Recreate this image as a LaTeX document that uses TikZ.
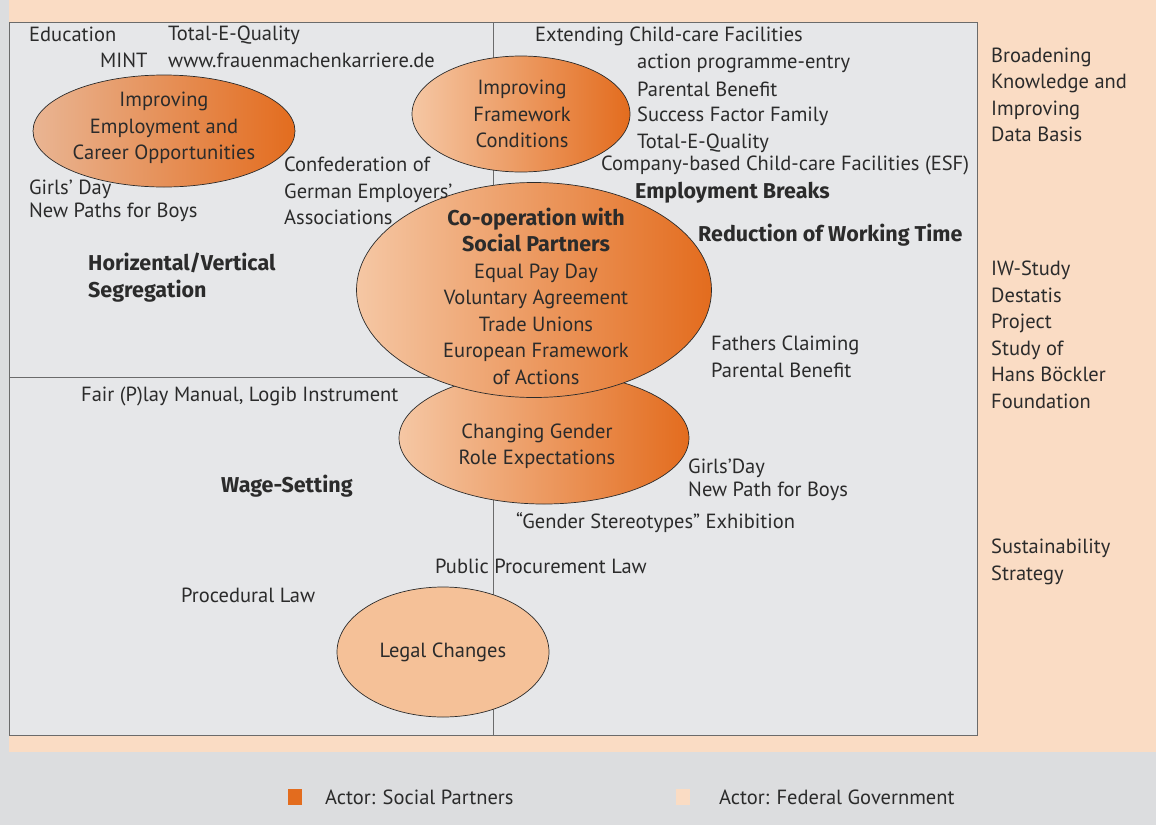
\documentclass[tikz,border=0pt]{standalone}
\usepackage{fontspec}
\setmainfont{PT Sans}
\newfontfamily\headfont{Fira Sans}
\usetikzlibrary{shapes.geometric}

\definecolor{peach}{HTML}{FADCC4}
\definecolor{panel}{HTML}{E6E7E9}
\definecolor{stripgray}{HTML}{DCDDDF}
\definecolor{actororange}{HTML}{E36C1E}
\definecolor{lightorange}{HTML}{F5C7A4}
\definecolor{tanorange}{HTML}{E9B593}
\definecolor{legalfill}{HTML}{F5C198}
\definecolor{ink}{HTML}{2B2B2B}

\newcommand{\headtxt}[1]{{\headfont\fontsize{21.5}{26.5}\selectfont\bfseries #1}}

\begin{document}
\begin{tikzpicture}[
    x=1pt, y=-1pt,
    txt/.style={anchor=west, inner sep=0pt, text=ink, align=left,
        font=\fontsize{20.5}{26.5}\selectfont},
    tight/.style={txt, font=\fontsize{20.5}{23}\selectfont},
    boldtxt/.style={txt, font=\headfont\fontsize{21.5}{27}\selectfont\bfseries},
    blobtxt/.style={inner sep=0pt, text=ink, align=center,
        font=\fontsize{20.5}{26.5}\selectfont},
    blob/.style={ellipse, draw=ink, line width=0.7pt, inner sep=0pt,
        left color=lightorange, right color=actororange},
    rule/.style={draw=ink!70, line width=1pt}
]
\useasboundingbox (0,0) rectangle (1156,825);

% background and panel
\fill[stripgray] (0,0) rectangle (1156,825);
\fill[peach] (9,0) rectangle (1156,752);
\draw[rule, fill=panel] (9,22) rectangle (977,735);
\draw[draw=ink!70, line width=0.6pt] (493,22) -- (493,735);
\draw[draw=ink!70, line width=0.6pt] (9,377) -- (493,377);

% fields of action
\node[blob, left color=tanorange, minimum width=262pt, minimum height=112pt] (career) at (164,131) {};
\node[blobtxt] (careertxt) at (164,128) {Improving\\Employment and\\Career Opportunities};

\node[blob, minimum width=218pt, minimum height=116pt] (frame) at (521,114) {};
\node[blobtxt] (frametxt) at (522,114) {Improving\\Framework\\Conditions};

\node[blob, minimum width=290pt, minimum height=132pt] (gender) at (544,438) {};
\node[blobtxt] (gendertxt) at (537,446) {Changing Gender\\Role Expectations};

\node[blob, minimum width=355pt, minimum height=215pt] (partners) at (534,290) {};
\node[blobtxt] (partnerstxt) at (536,296) {\headtxt{Co-operation with}\\\headtxt{Social Partners}\\Equal Pay Day\\Voluntary Agreement\\Trade Unions\\European Framework\\of Actions};

\node[ellipse, draw=ink, line width=0.7pt, fill=legalfill,
    minimum width=212pt, minimum height=130pt] (legal) at (443,652) {};
\node[blobtxt] (legaltxt) at (443,652) {Legal Changes};

% measures, upper left
\node[txt] (edu) at (29,34) {Education};
\node[txt] (teq) at (168,35) {Total-E-Quality};
\node[txt] (mint) at (100,60) {MINT};
\node[txt] (www) at (168,60) {www.frauenmachenkarriere.de};
\node[tight] (girls) at (29,201) {Girls’ Day\\New Paths for Boys};
\node[txt] (bda) at (284,191) {Confederation of\\German Employers’\\Associations};
\node[boldtxt] (segr) at (88,278) {Horizental/Vertical\\Segregation};

% measures, upper right
\node[txt] (kita) at (535,36) {Extending Child-care Facilities};
\node[txt] (entry) at (637,63) {action programme-entry};
\node[txt] (benefit) at (637,89) {Parental Benefit};
\node[txt] (family) at (637,116) {Success Factor Family};
\node[txt] (teq2) at (637,143) {Total-E-Quality};
\node[txt] (esf) at (601,165) {Company-based Child-care Facilities (ESF)};
\node[boldtxt] (breaks) at (635,193) {Employment Breaks};
\node[boldtxt] (worktime) at (698,235) {Reduction of Working Time};
\node[txt] (fathers) at (711,357) {Fathers Claiming\\Parental Benefit};

% measures, lower half
\node[txt] (fairplay) at (81,396) {Fair (P)lay Manual, Logib Instrument};
\node[boldtxt] (wage) at (221,486) {Wage-Setting};
\node[tight] (girls2) at (688,480) {Girls’Day\\New Path for Boys};
\node[txt] (expo) at (516,523) {“Gender Stereotypes” Exhibition};
\node[txt] (procure) at (435,566) {Public Procurement Law};
\node[txt] (proced) at (181,595) {Procedural Law};

% federal government column
\node[txt] (data) at (991,95) {Broadening\\Knowledge and\\Improving\\Data Basis};
\node[txt] (studies) at (991,335) {IW-Study\\Destatis\\Project\\Study of\\Hans Böckler\\Foundation};
\node[txt] (sustain) at (991,562) {Sustainability\\Strategy};

% legend
\fill[actororange] (288,789) rectangle (302,805);
\node[txt] (legsocial) at (325,797) {Actor: Social Partners};
\fill[peach] (676,789) rectangle (690,805);
\node[txt] (legfederal) at (719,797) {Actor: Federal Government};
\end{tikzpicture}
\end{document}
